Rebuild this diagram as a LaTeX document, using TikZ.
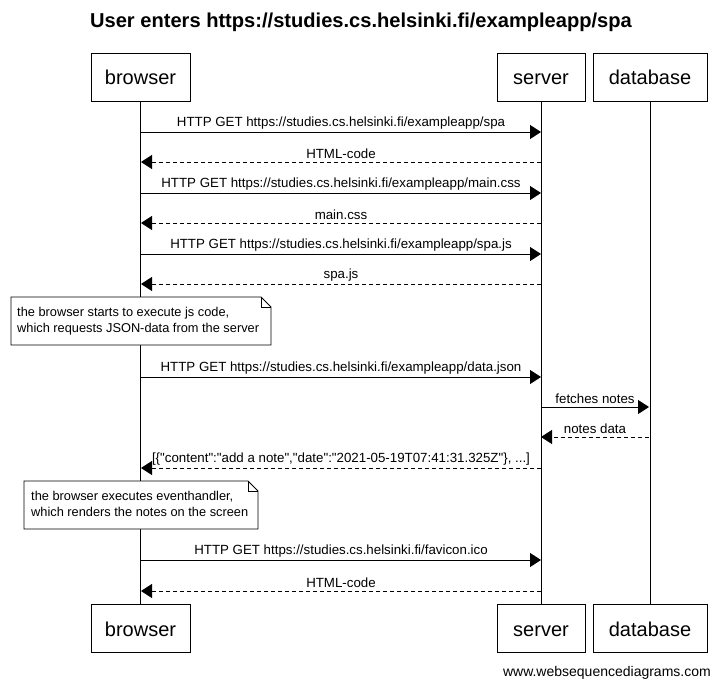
\documentclass[tikz,border=0pt]{standalone}
\usepackage{fontspec}
\setmainfont{Liberation Sans}
\usetikzlibrary{arrows.meta}
\tikzset{
  x=1pt, y=-1pt,
  part/.style={draw, line width=0.8pt, fill=white, minimum width=#1, minimum height=48pt, inner sep=0pt, text height=18pt, text depth=2.5pt, font=\fontsize{20}{24}\selectfont},
  life/.style={line width=0.8pt},
  msg/.style={line width=0.8pt, -{Triangle[length=11pt,width=14pt]}},
  reply/.style={msg, dash pattern=on 4pt off 3pt},
  lbl/.style={midway, above, inner sep=2.5pt, font=\fontsize{13.3}{15}\selectfont},
  notetext/.style={align=left, anchor=north west, inner sep=0pt, font=\fontsize{12.8}{16}\selectfont},
  notebox/.style={draw, fill=white, line width=0.8pt}
}
\begin{document}
\begin{tikzpicture}
\useasboundingbox (0,0) rectangle (720,688);
\node[anchor=base, inner sep=0pt, font=\bfseries\fontsize{20.1}{24}\selectfont] (title) at (361,27.5) {User enters https://studies.cs.helsinki.fi/exampleapp/spa};
% participants
\node[part=99pt] (bt) at (140.5,77) {browser};
\node[part=88pt] (st) at (541,77) {server};
\node[part=114pt] (dt) at (650,77) {database};
\node[part=99pt] (bb) at (140.5,628.5) {browser};
\node[part=88pt] (sb) at (541,628.5) {server};
\node[part=114pt] (db) at (650,628.5) {database};
% lifelines
\draw[life] (bt.south) -- (bb.north);
\draw[life] (st.south) -- (sb.north);
\draw[life] (dt.south) -- (db.north);
% message coordinates
\foreach \n/\y in {1/132,2/162,3/193,4/223,5/254,6/284,7/377,10/468,11/560,12/591}{
  \coordinate (b\n) at (141,\y);
  \coordinate (s\n) at (541,\y);
}
\coordinate (s8) at (541,407); \coordinate (d8) at (649,407);
\coordinate (s9) at (541,437); \coordinate (d9) at (649,437);
% messages
\draw[msg] (b1) -- node[lbl]{HTTP GET https://studies.cs.helsinki.fi/exampleapp/spa} (s1);
\draw[reply] (s2) -- node[lbl]{HTML-code} (b2);
\draw[msg] (b3) -- node[lbl]{HTTP GET https://studies.cs.helsinki.fi/exampleapp/main.css} (s3);
\draw[reply] (s4) -- node[lbl]{main.css} (b4);
\draw[msg] (b5) -- node[lbl]{HTTP GET https://studies.cs.helsinki.fi/exampleapp/spa.js} (s5);
\draw[reply] (s6) -- node[lbl]{spa.js} (b6);
\draw[msg] (b7) -- node[lbl]{HTTP GET https://studies.cs.helsinki.fi/exampleapp/data.json} (s7);
\draw[msg] (s8) -- node[lbl]{fetches notes} (d8);
\draw[reply] (d9) -- node[lbl]{notes data} (s9);
\draw[reply] (s10) -- node[lbl]{[\{\textquotedbl content\textquotedbl:\textquotedbl add a note\textquotedbl,\textquotedbl date\textquotedbl:\textquotedbl 2021-05-19T07:41:31.325Z\textquotedbl\}, ...]} (b10);
\draw[msg] (b11) -- node[lbl]{HTTP GET https://studies.cs.helsinki.fi/favicon.ico} (s11);
\draw[reply] (s12) -- node[lbl]{HTML-code} (b12);
% note 1
\draw[notebox] (11,297) -- (261,297) -- (271,307) -- (271,345) -- (11,345) -- cycle;
\draw[line width=0.8pt] (261,297) -- (261,307) -- (271,307);
\node[notetext] (n1) at (17,307) {the browser starts to execute js code,\\which requests JSON-data from the server};
% note 2
\draw[notebox] (24,481) -- (248,481) -- (258,491) -- (258,529) -- (24,529) -- cycle;
\draw[line width=0.8pt] (248,481) -- (248,491) -- (258,491);
\node[notetext] (n2) at (31,491) {the browser executes eventhandler,\\which renders the notes on the screen};
% footer
\node[anchor=base east, inner sep=0pt, font=\fontsize{14}{16}\selectfont] (foot) at (711,676) {www.websequencediagrams.com};
\end{tikzpicture}
\end{document}
